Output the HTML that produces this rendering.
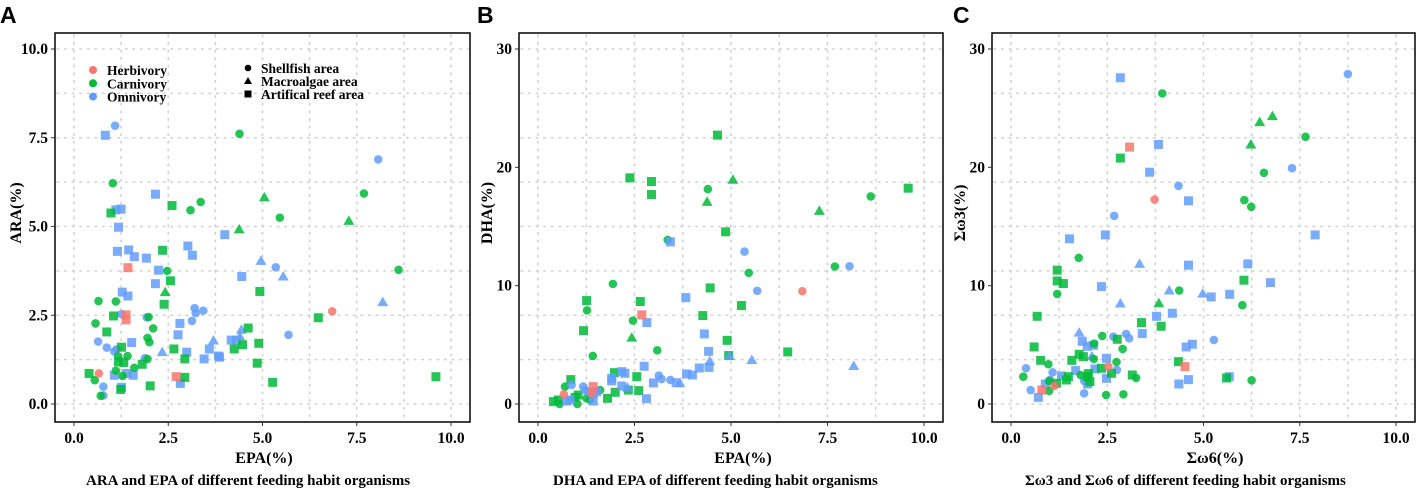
<!DOCTYPE html>
<html><head><meta charset="utf-8">
<style>
html,body{margin:0;padding:0;background:#fff;}
svg{display:block;}
.tk{font-family:"Liberation Serif",serif;font-weight:bold;font-size:15.5px;fill:#000;}
.ttl{font-family:"Liberation Serif",serif;font-weight:bold;font-size:16px;fill:#000;}
.cap{font-family:"Liberation Serif",serif;font-weight:bold;font-size:15px;fill:#000;}
.lt{font-family:"Liberation Serif",serif;font-weight:bold;font-size:13.5px;fill:#000;}
.let{font-family:"Liberation Sans",sans-serif;font-weight:bold;font-size:23px;fill:#000;}
</style></head>
<body>
<svg id="chart" width="1422" height="494" viewBox="0 0 1422 494" xmlns="http://www.w3.org/2000/svg"></svg>
<script>
// group: H=Herbivory, C=Carnivory, O=Omnivory ; area: s=Shellfish, m=Macroalgae, r=Artifical reef
const epaA  = [0.83,1.09,2.16,1.11,1.25,1.18,1.15,1.45,1.60,1.92,2.24,2.16,1.28,1.43,1.26,1.93,3.20,3.23,3.43,3.13,2.81,3.02,3.14,4.00,4.45,5.35,4.96,5.55,8.07,8.19,5.69,4.44,4.40,4.17,4.31,3.70,2.76,3.59,2.99,3.45,3.83,3.86,2.34,1.53,0.64,0.87,1.07,1.13,1.88,0.78,0.78,1.07,1.40,1.57,1.26,2.82,
 4.39,1.03,7.69,5.05,3.36,3.09,2.60,0.98,5.46,7.29,4.38,2.35,8.61,2.47,2.56,4.93,2.42,2.39,0.65,1.11,1.05,1.98,6.48,0.57,2.10,4.62,0.87,1.95,2.00,1.26,4.90,4.47,4.25,2.65,1.17,1.42,1.18,1.32,1.95,2.94,1.81,1.60,4.86,1.11,0.40,1.29,0.55,2.94,9.60,5.27,2.02,1.24,0.71,
 1.43,1.38,1.38,6.85,0.66,2.71];
const araA  = [7.57,7.84,5.91,5.47,5.49,4.98,4.30,4.34,4.15,4.11,3.77,3.39,3.15,3.04,2.53,2.44,2.70,2.56,2.63,2.34,2.27,4.45,4.19,4.77,3.59,3.85,4.03,3.59,6.89,2.87,1.95,2.09,1.90,1.80,1.80,1.79,1.95,1.55,1.46,1.27,1.35,1.32,1.46,1.73,1.76,1.59,1.48,1.54,1.29,0.49,0.24,0.81,0.86,0.81,0.47,0.58,
 7.61,6.22,5.93,5.82,5.69,5.46,5.59,5.38,5.25,5.16,4.92,4.33,3.78,3.75,3.47,3.17,3.15,2.81,2.90,2.89,2.48,2.45,2.43,2.27,2.13,2.14,2.03,1.86,1.74,1.60,1.71,1.67,1.55,1.55,1.34,1.35,1.19,1.17,1.27,1.27,1.12,1.02,1.15,0.94,0.86,0.79,0.67,0.75,0.77,0.61,0.51,0.41,0.23,
 3.84,2.51,2.37,2.61,0.86,0.77];
const groupA = "O".repeat(56)+"C".repeat(53)+"H".repeat(6);
const areaA  = "rsrrrrrrrrrrrr"+"ssssss"+"rrrrr"+"smmsmsmmrrm"+"rrrrrr"+"mr"+"sssssss"+"rrrrr"
 +"sss"+"m"+"ss"+"rr"+"s"+"mm"+"r"+"ss"+"rr"+"m"+"r"+"ss"+"r"+"s"+"r"+"ss"+"rr"+"ss"+"rrrrr"+"ss"+"rr"+"s"+"rr"+"s"+"r"+"s"+"r"+"ss"+"rrrrr"+"s"
 +"rrrssr";

const epaB = [4.65,2.38,2.94,2.94,5.05,4.40,4.38,9.59,8.62,7.29,4.86,3.36,7.69,5.46,1.94,4.46,1.26,2.65,1.27,5.27,4.27,2.46,1.18,2.43,4.90,3.09,6.47,1.42,4.94,2.56,1.98,0.85,0.70,2.61,2.34,2.00,1.80,1.61,0.96,1.04,1.02,0.40,0.53,0.56,1.26,1.35,
 3.43,5.35,8.07,5.68,3.83,2.82,4.31,4.42,5.54,4.45,4.43,8.18,4.96,2.75,4.18,3.85,4.00,3.13,3.20,3.43,2.99,3.58,3.68,2.17,2.25,2.17,2.32,1.91,1.91,2.81,0.87,1.17,1.22,1.30,1.43,1.52,0.83,0.74,1.43,
 2.69,6.85,1.43,1.39,0.67];
const dhaB = [22.72,19.11,18.80,17.70,18.95,18.16,17.08,18.24,17.54,16.32,14.55,13.87,11.62,11.08,10.15,9.81,8.74,8.66,7.92,8.32,7.47,7.05,6.20,5.61,5.38,4.54,4.40,4.06,4.09,2.31,2.65,2.06,1.47,1.13,1.18,0.99,0.48,1.18,0.56,0.76,0.00,0.20,0.34,0.00,0.48,0.34,
 13.70,12.88,11.64,9.56,8.99,6.88,5.92,4.45,3.72,3.61,3.10,3.21,4.06,3.19,3.04,2.54,2.45,2.40,2.11,2.03,1.78,1.80,1.75,2.73,2.59,1.52,1.38,1.95,2.17,0.45,1.61,1.47,1.18,1.04,0.90,1.04,0.34,0.25,0.25,
 7.53,9.53,1.47,0.90,0.82];
const groupB = "C".repeat(46)+"O".repeat(39)+"H".repeat(5);
const areaB  = "rrrr"+"msmrsmr"+"ssss"+"rrr"+"s"+"rr"+"s"+"r"+"m"+"r"+"s"+"r"+"s"+"rrrr"+"s"+"rrrr"+"s"+"rr"+"s"+"rr"+"sss"
 +"r"+"sss"+"rrrr"+"mm"+"r"+"mm"+"rrrr"+"sss"+"rr"+"m"+"rrr"+"m"+"rrr"+"ssss"+"rrrrr"
 +"rsrss";

const w6C = [2.84,8.75,3.83,3.60,7.30,4.35,4.61,2.68,2.45,1.52,7.90,3.34,4.61,6.15,6.74,2.35,4.11,4.98,5.20,5.68,2.84,4.19,3.78,3.41,5.27,4.71,4.55,1.77,1.85,1.98,2.14,2.66,2.99,3.07,2.10,2.48,2.75,0.39,1.08,1.68,1.31,2.18,2.48,0.51,1.01,0.89,0.71,1.90,1.90,1.99,4.36,4.61,5.67,
 3.93,6.79,6.46,7.65,6.23,2.84,6.57,6.06,6.24,1.76,1.20,1.20,1.36,6.05,1.20,4.37,3.84,6.01,0.68,3.39,3.90,2.37,2.76,2.16,0.60,2.90,1.77,1.88,2.15,0.77,1.58,2.74,0.97,4.35,2.35,2.61,2.01,1.81,3.15,3.25,1.49,1.44,1.18,0.32,0.99,0.99,1.98,2.05,5.60,6.25,2.47,2.92,
 3.08,3.73,4.52,2.53,0.80,1.13];
const w3C = [27.57,27.88,21.93,19.59,19.93,18.44,17.17,15.90,14.29,13.96,14.29,11.84,11.73,11.84,10.26,9.92,9.59,9.33,9.05,9.27,8.49,7.67,7.41,5.95,5.41,5.05,4.82,6.03,5.30,4.88,4.96,5.69,5.92,5.55,4.03,3.86,2.88,3.02,2.68,2.82,2.37,2.96,2.17,1.18,2.03,1.69,0.56,0.90,1.95,1.69,1.69,2.06,2.31,
 26.25,24.33,23.82,22.58,21.93,20.78,19.54,17.23,16.66,12.35,11.31,10.40,10.18,10.46,9.30,9.59,8.51,8.35,7.41,6.88,6.57,5.75,5.47,5.10,4.82,4.65,4.20,4.00,3.81,3.69,3.69,3.55,3.36,3.58,3.02,2.59,2.57,2.45,2.45,2.20,2.31,2.03,1.75,2.31,1.95,1.10,2.31,1.89,2.20,2.00,0.76,0.82,
 21.71,17.28,3.16,3.16,1.18,1.52];
const groupC = "O".repeat(53)+"C".repeat(52)+"H".repeat(6);
const areaC  = "rs"+"rr"+"ss"+"r"+"s"+"rrr"+"m"+"rrrr"+"mm"+"rr"+"m"+"rrr"+"s"+"rr"+"m"+"rrr"+"sss"+"m"+"r"+"sss"+"rrrr"+"ss"+"rr"+"ss"+"rrrr"
 +"smmsmr"+"ssss"+"rrrr"+"ss"+"m"+"s"+"rrr"+"s"+"r"+"s"+"r"+"s"+"rr"+"s"+"r"+"r"+"ss"+"rrrr"+"s"+"r"+"s"+"rrr"+"sss"+"rrr"+"sss"
 +"rsrsrs";

const xTicks = [0,2.5,5,7.5,10];
const xTickLabels = ["0.0","2.5","5.0","7.5","10.0"];
const yTicksA = [0,2.5,5,7.5,10];
const yTickLabelsA = ["0.0","2.5","5.0","7.5","10.0"];
const yTicks30 = [0,10,20,30];
const yTickLabels30 = ["0","10","20","30"];

const NS="http://www.w3.org/2000/svg";
const svg=document.getElementById('chart');
const COL={H:'#f8766d',C:'#00ba38',O:'#619cff'};
function mk(tag,attrs,parent){const e=document.createElementNS(NS,tag);for(const k in attrs)e.setAttribute(k,attrs[k]);(parent||svg).appendChild(e);return e;}

function panel(cfg){
  const g=mk('g',{});
  
  
  const sx=v=>cfg.x0+(cfg.x10-cfg.x0)*v/10;
  const sy=v=>cfg.y0+(cfg.yTop-cfg.y0)*v/cfg.ymax;
  const grid=mk('g',{stroke:'#d0d0d0','stroke-width':1.6,'stroke-dasharray':'1.6 6','stroke-linecap':'round'},g);
  
  
  for(let v=0;v<=10.001;v+=1.25){mk('line',{x1:sx(v),x2:sx(v),y1:cfg.fy0+2,y2:cfg.fy1-2},grid);}
  const ys=cfg.ymax/8;
  for(let v=0;v<=cfg.ymax+0.001;v+=ys){mk('line',{x1:cfg.fx0+2,x2:cfg.fx1-2,y1:sy(v),y2:sy(v)},grid);}
  const pts=mk('g',{},g);
  
  
  for(let i=0;i<cfg.xs.length;i++){
    const x=sx(cfg.xs[i]),y=sy(cfg.ys[i]),c=COL[cfg.grp[i]]||'#619cff',a=cfg.area[i];
    let e;
    if(a==='r') e=mk('rect',{x:x-4.5,y:y-4.5,width:9,height:9,fill:c,'fill-opacity':0.85},pts);
    else if(a==='m') e=mk('polygon',{points:`${x},${y-5.5} ${x-5.5},${y+4} ${x+5.5},${y+4}`,fill:c,'fill-opacity':0.85},pts);
    else e=mk('circle',{cx:x,cy:y,r:4.3,fill:c,'fill-opacity':0.85},pts);
    
    
  }
  const fr=mk('rect',{x:cfg.fx0,y:cfg.fy0,width:cfg.fx1-cfg.fx0,height:cfg.fy1-cfg.fy0,fill:'none',stroke:'#000','stroke-width':1.5},g);
  
  
  xTicks.forEach((v,i)=>{
    mk('line',{x1:sx(v),x2:sx(v),y1:cfg.fy1,y2:cfg.fy1+4,stroke:'#333','stroke-width':1},g);
    const t=mk('text',{x:sx(v),y:cfg.fy1+21,'text-anchor':'middle',class:'tk'},g);
    t.textContent=xTickLabels[i];
    
    
  });
  cfg.yt.forEach((v,i)=>{
    mk('line',{x1:cfg.fx0-4,x2:cfg.fx0,y1:sy(v),y2:sy(v),stroke:'#333','stroke-width':1},g);
    const t=mk('text',{x:cfg.fx0-7,y:sy(v)+5,'text-anchor':'end',class:'tk'},g);
    t.textContent=cfg.ytl[i];
    
    
  });
  const xt=mk('text',{x:cfg.xtX,y:463,'text-anchor':'middle',class:'ttl'},g);
  xt.textContent=cfg.xtitle;
  
  
  const yt=mk('text',{x:0,y:0,'text-anchor':'middle',class:'ttl',transform:`translate(${cfg.ytX},213) rotate(-90)`},g);
  yt.textContent=cfg.ytitle;
  
  
  const cp=mk('text',{x:cfg.capX,y:485,class:'cap'},g);
  cp.textContent=cfg.cap;
  
  
  const lt=mk('text',{x:cfg.letX,y:23,class:'let'},g);
  lt.textContent=cfg.letter;
  
  
}

panel({name:'panel-a',letter:'A',letX:0,fx0:55,fx1:470,fy0:33,fy1:422,x0:74,x10:451,y0:404,yTop:49,ymax:10,
  xs:epaA,ys:araA,grp:groupA,area:areaA,yt:yTicksA,ytl:yTickLabelsA,xtitle:'EPA(%)',xtX:264,ytitle:'ARA(%)',ytX:21,
  cap:'ARA and EPA of different feeding habit organisms',capX:86});
panel({name:'panel-b',letter:'B',letX:477,fx0:519,fx1:943,fy0:33,fy1:422,x0:538,x10:924,y0:404,yTop:49,ymax:30,
  xs:epaB,ys:dhaB,grp:groupB,area:areaB,yt:yTicks30,ytl:yTickLabels30,xtitle:'EPA(%)',xtX:743,ytitle:'DHA(%)',ytX:492,
  cap:'DHA and EPA of different feeding habit organisms',capX:553});
panel({name:'panel-c',letter:'C',letX:953,fx0:992,fx1:1415,fy0:33,fy1:422,x0:1011,x10:1396,y0:404,yTop:49,ymax:30,
  xs:w6C,ys:w3C,grp:groupC,area:areaC,yt:yTicks30,ytl:yTickLabels30,xtitle:'Σω6(%)',xtX:1215,ytitle:'Σω3(%)',ytX:965,
  cap:'Σω3 and Σω6 of different feeding habit organisms',capX:1025});

const lg=mk('g',{});


const legNames=['Herbivory','Carnivory','Omnivory'], legKeys=['H','C','O'];
legNames.forEach((n,i)=>{
  const y=71+i*13.3;
  const c=mk('circle',{cx:93,cy:y-1,r:4,fill:COL[legKeys[i]]},lg);
  
  
  const t=mk('text',{x:107,y:y+4,class:'lt'},lg);
  t.textContent=n;
  
  
});
const shp=['Shellfish area','Macroalgae area','Artifical reef area'];
shp.forEach((n,i)=>{
  const y=68+i*13;
  let e;
  if(i===0) e=mk('circle',{cx:248,cy:y,r:3.3,fill:'#000'},lg);
  else if(i===1) e=mk('polygon',{points:`248,${y-4} 244,${y+3} 252,${y+3}`,fill:'#000'},lg);
  else e=mk('rect',{x:244.5,y:y-3.5,width:7,height:7,fill:'#000'},lg);
  
  
  const t=mk('text',{x:261,y:y+5,class:'lt'},lg);
  t.textContent=n;
  
  
});
</script>
</body></html>
